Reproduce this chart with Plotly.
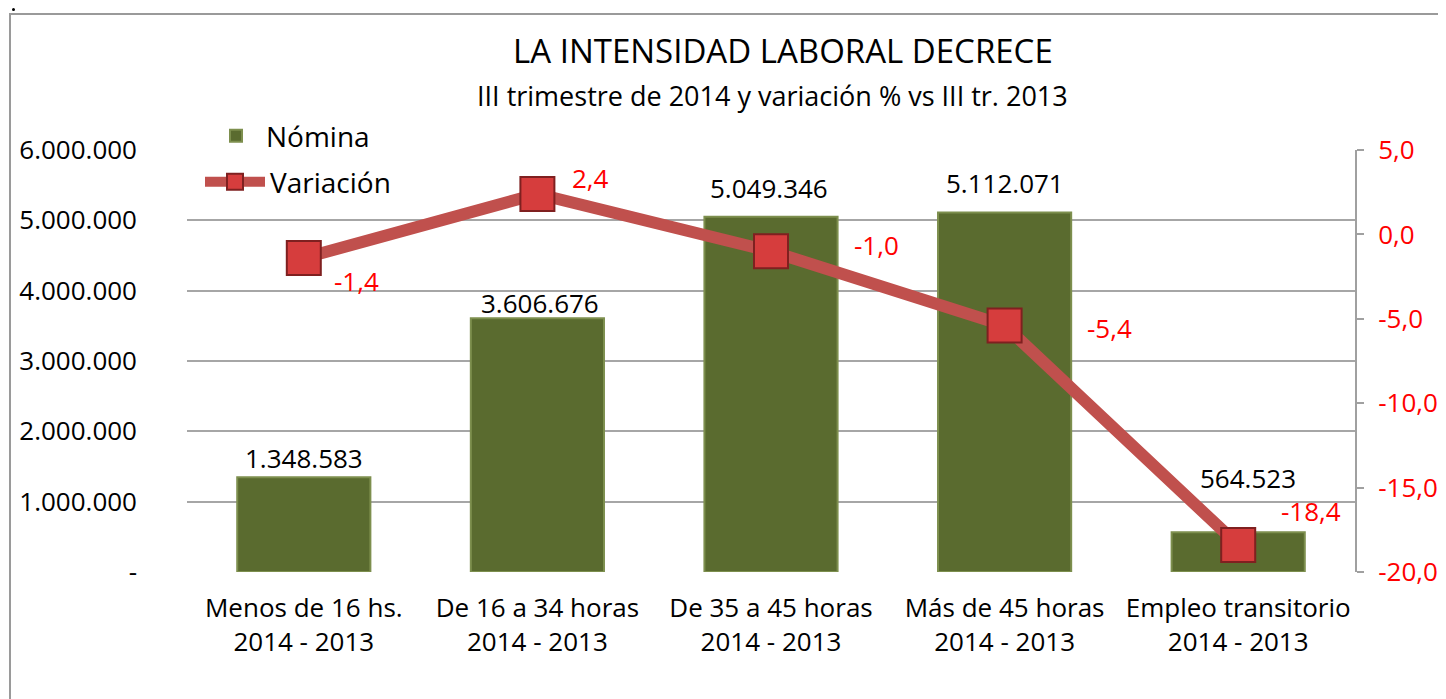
import plotly.graph_objects as go

categories = ["Menos de 16 hs.<br>2014 - 2013", "De 16 a 34 horas<br>2014 - 2013",
              "De 35 a 45 horas<br>2014 - 2013", "Más de 45 horas<br>2014 - 2013",
              "Empleo transitorio<br>2014 - 2013"]
nomina = [1348583, 3606676, 5049346, 5112071, 564523]
variacion = [-1.4, 2.4, -1.0, -5.4, -18.4]

left_tickvals = [0, 1000000, 2000000, 3000000, 4000000, 5000000, 6000000]
left_ticktext = ["-", "1.000.000", "2.000.000", "3.000.000", "4.000.000", "5.000.000", "6.000.000"]
right_tickvals = [-20, -15, -10, -5, 0, 5]
right_ticktext = ["-20,0", "-15,0", "-10,0", "-5,0", "0,0", "5,0"]

# label nudges (pixels)
bar_label_shift = [(0, 19), (3, 15), (-2, 29), (0, 29), (10, 54)]
line_label_shift = [(53, -23), (53, 16), (105, 6), (105, -2), (73, 34)]

FONT = "Open Sans"
OFF = 8  # page body margin

# plot area in page pixels: x 187..1355, y 150..572
PW, PH = 1168, 422


def px(x):
    return (x - 187) / PW


def py(y):
    return (572 - y) / PH


fig = go.Figure()
fig.add_trace(go.Bar(
    x=categories, y=nomina, name="Nómina",
    marker=dict(color="#5a6b2f", line=dict(color="#7d8f4e", width=2)),
    legend="legend", hoverinfo="skip",
))
fig.add_trace(go.Scatter(
    x=categories, y=variacion, name="Variación", yaxis="y2", mode="lines+markers",
    line=dict(color="#c0504d", width=12),
    marker=dict(symbol="square", size=34, color="#d63d3d", line=dict(color="#7f2020", width=2)),
    legend="legend2", hoverinfo="skip",
))

annotations = []
for c, v, (dx, dy) in zip(categories, nomina, bar_label_shift):
    annotations.append(dict(x=c, y=v, xref="x", yref="y", text=f"{v:,}".replace(",", "."),
                            showarrow=False, yanchor="middle", xshift=dx, yshift=dy,
                            font=dict(size=26, color="black", family=FONT)))
for c, v, (dx, dy) in zip(categories, variacion, line_label_shift):
    annotations.append(dict(x=c, y=v, xref="x", yref="y2", text=f"{v:.1f}".replace(".", ","),
                            showarrow=False, yanchor="middle", xshift=dx, yshift=dy,
                            font=dict(size=26, color="red", family=FONT)))
annotations.append(dict(x=px(783), y=py(50), xref="paper", yref="paper",
                        text="LA INTENSIDAD LABORAL DECRECE", showarrow=False, yanchor="middle",
                        font=dict(size=33, color="black", family=FONT)))
annotations.append(dict(x=px(772), y=py(96), xref="paper", yref="paper",
                        text="III trimestre de 2014 y variación % vs III tr. 2013", showarrow=False,
                        yanchor="middle", font=dict(size=27, color="black", family=FONT)))

fig.update_layout(
    width=1446, height=699,
    margin=dict(l=187 - OFF, r=91 + OFF, t=150 - OFF, b=127 + OFF),
    paper_bgcolor="white", plot_bgcolor="white",
    font=dict(family=FONT, size=26, color="black"),
    bargap=0.43,
    showlegend=True,
    legend=dict(x=px(206), y=py(111), xanchor="left", yanchor="top",
                bgcolor="rgba(0,0,0,0)", font=dict(size=28, family=FONT), itemwidth=50),
    legend2=dict(x=px(200), y=py(157), xanchor="left", yanchor="top",
                 bgcolor="rgba(0,0,0,0)", font=dict(size=28, family=FONT), itemwidth=60),
    xaxis=dict(type="category", range=[-0.5, 4.5], showgrid=False, showline=False, ticks="",
               ticklabelstandoff=18, tickfont=dict(size=26, family=FONT, color="black")),
    yaxis=dict(range=[0, 6000000], tickvals=left_tickvals, ticktext=left_ticktext,
               showgrid=True, gridcolor="#a6a6a6", gridwidth=1.5, zeroline=False, showline=False,
               ticks="", ticklabelstandoff=49, tickfont=dict(size=26, family=FONT, color="black")),
    yaxis2=dict(range=[-20, 5], tickvals=right_tickvals, ticktext=right_ticktext, overlaying="y",
                side="right", showgrid=False, zeroline=False, showline=True, linecolor="#a0a0a0",
                linewidth=2, ticks="outside", ticklen=7, tickcolor="#a0a0a0", tickwidth=2,
                ticklabelstandoff=9, tickfont=dict(size=26, family=FONT, color="red")),
    annotations=annotations,
    shapes=[
        dict(type="rect", xref="paper", yref="paper",
             x0=px(10), x1=px(1470), y0=py(720), y1=py(14),
             line=dict(color="#9a9a9a", width=2), fillcolor="rgba(0,0,0,0)", layer="below"),
        dict(type="circle", xref="paper", yref="paper",
             x0=px(12), x1=px(15), y0=py(11), y1=py(8),
             line=dict(color="black", width=0), fillcolor="black"),
    ],
)
fig.write_html("out.html")
